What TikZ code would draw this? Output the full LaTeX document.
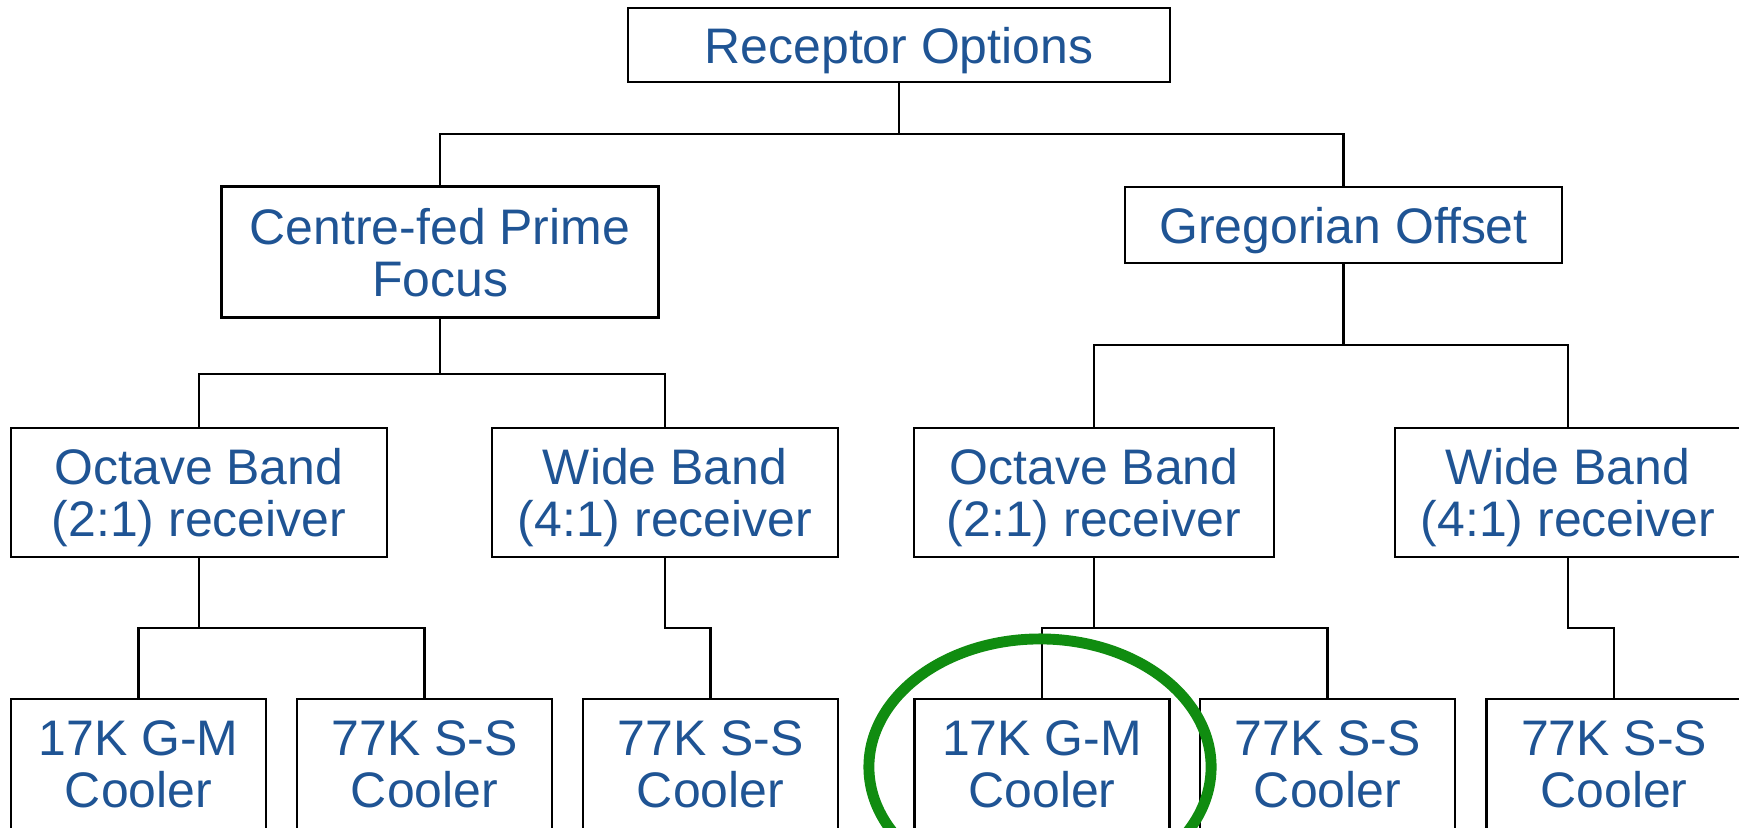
\documentclass[tikz,border=0pt]{standalone}
\usepackage{fontspec}
\setmainfont{Liberation Sans}
\usepackage{tikz}
\definecolor{textblue}{RGB}{31,84,148}
\definecolor{ringgreen}{RGB}{16,140,16}
\tikzstyle{block} = [draw,
                     line width=0.7pt,
                     inner sep=0pt,
                     align=center,
                     text depth=0pt,
                     text=textblue,
                     font=\fontsize{14.2pt}{14.8pt}\selectfont]
\tikzstyle{link}  = [line width=0.6pt]
\tikzstyle{ring}  = [draw=ringgreen,
                     line width=3.1pt]

\begin{document}
\begin{tikzpicture}[x=0.01cm, y=-0.01cm]

  \useasboundingbox (0,0) rectangle (1739,827);

  % Nodes
  \node[block, minimum width=5.42cm, minimum height=0.74cm] (root) at (899,45) {Receptor Options};

  \node[block, minimum width=4.37cm, minimum height=1.31cm] (cfed) at (440,252) {Centre-fed Prime\\Focus};
  \node[block, minimum width=4.37cm, minimum height=0.76cm] (greg) at (1343.5,225) {Gregorian Offset};

  \node[block, minimum width=3.76cm, minimum height=1.29cm] (oct1)  at (199,492.5)  {Octave Band\\(2:1) receiver};
  \node[block, minimum width=3.46cm, minimum height=1.29cm] (wide1) at (665,492.5)  {Wide Band\\(4:1) receiver};
  \node[block, minimum width=3.60cm, minimum height=1.29cm] (oct2)  at (1094,492.5) {Octave Band\\(2:1) receiver};
  \node[block, minimum width=3.46cm, minimum height=1.29cm] (wide2) at (1568,492.5) {Wide Band\\(4:1) receiver};

  \foreach \name/\xpos/\txt in {c1/138.5/17K G-M, c2/424.5/77K S-S, c3/710.5/77K S-S,
                                c4/1042/17K G-M, c5/1327.5/77K S-S, c6/1614/77K S-S}
    \node[block, minimum width=2.55cm, minimum height=1.30cm] (\name) at (\xpos,764) {\txt\\Cooler};

  % Junctions
  \coordinate (j1) at (899,134);
  \coordinate (j2) at (440,374);
  \coordinate (j3) at (1343.5,345);
  \coordinate (j4) at (199,628);
  \coordinate (j5) at (665,628);
  \coordinate (j6) at (1094,628);
  \coordinate (j7) at (1568,628);

  % Edges
  \draw[link] (root.south) -- (j1);
  \draw[link] (cfed.north) |- (j1) -| (greg.north);
  \draw[link] (cfed.south) -- (j2);
  \draw[link] (oct1.north) |- (j2) -| (wide1.north);
  \draw[link] (greg.south) -- (j3);
  \draw[link] (oct2.north) |- (j3) -| (wide2.north);
  \draw[link] (oct1.south) -- (j4);
  \draw[link] (c1.north) |- (j4) -| (c2.north);
  \draw[link] (wide1.south) -- (j5) -| (c3.north);
  \draw[link] (oct2.south) -- (j6);
  \draw[link] (c4.north) |- (j6) -| (c5.north);
  \draw[link] (wide2.south) -- (j7) -| (c6.north);

  % Highlight
  \draw[ring] (1040,767) ellipse [x radius=1.71cm, y radius=1.28cm];

\end{tikzpicture}
\end{document}
